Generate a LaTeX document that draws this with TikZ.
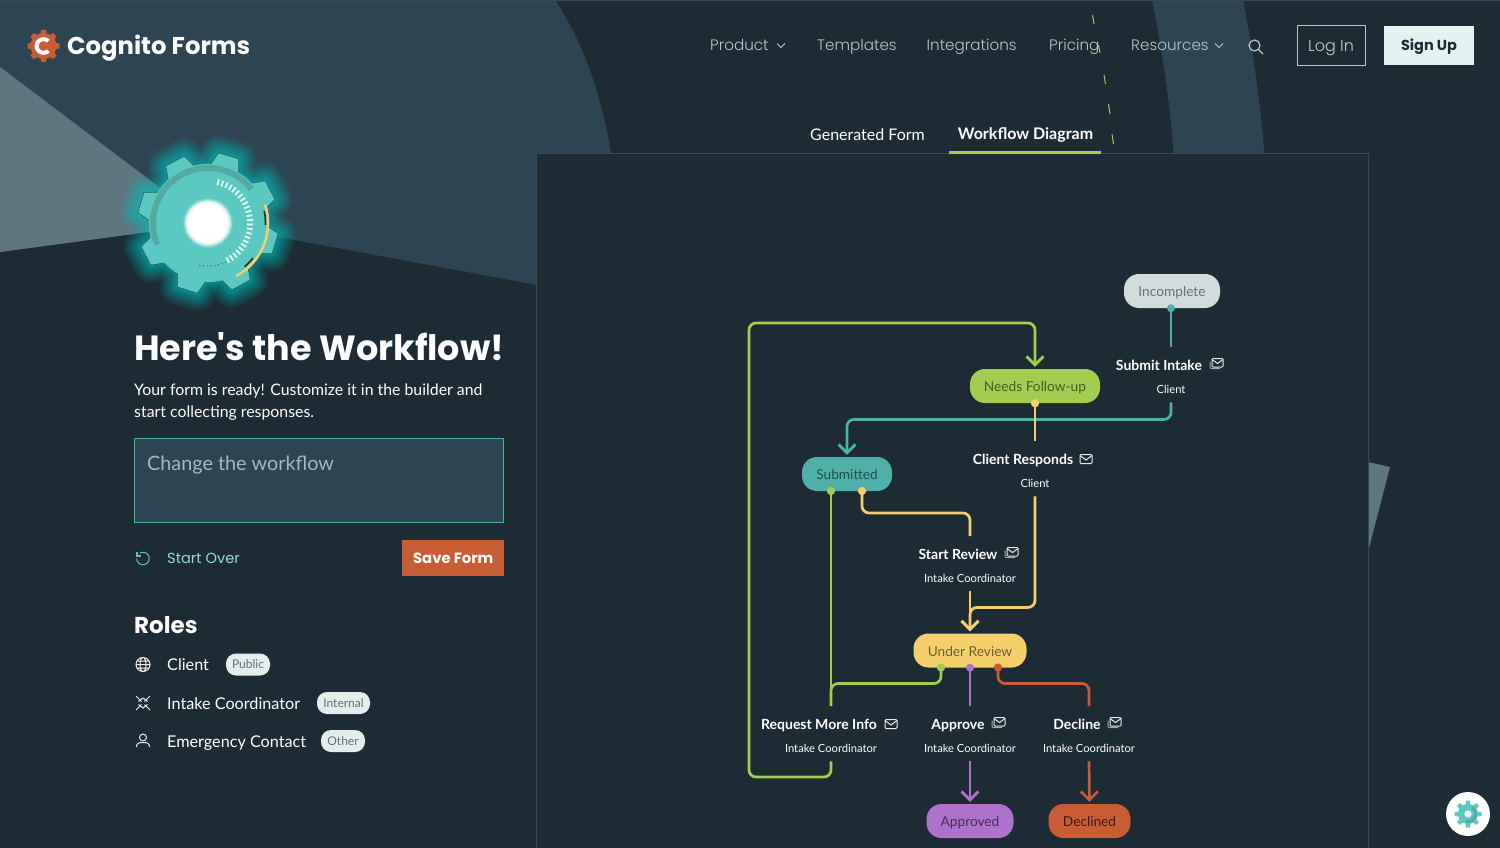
\documentclass[tikz,border=0pt]{standalone}
\usepackage{fontspec}
\setmainfont{Lato}
\newfontfamily\geofont{Poppins}
\newfontfamily\geolight{Poppins Light}
\usetikzlibrary{arrows.meta}
\definecolor{pagedark}{HTML}{1C2B34}
\definecolor{bandblue}{HTML}{2D4452}
\definecolor{wedgegray}{HTML}{5E7680}
\definecolor{edgeblue}{HTML}{34495A}
\definecolor{tealc}{HTML}{4EB0A9}
\definecolor{gearc}{HTML}{5BC9C1}
\definecolor{greenc}{HTML}{A1CD50}
\definecolor{yellowc}{HTML}{F5CF6B}
\definecolor{purplec}{HTML}{AE71CC}
\definecolor{redc}{HTML}{C85C34}
\definecolor{palec}{HTML}{D2DCDC}
\definecolor{pillc}{HTML}{E4ECEC}
\definecolor{slatec}{HTML}{5F737A}
\definecolor{navc}{HTML}{B9C8CB}
\tikzset{
 state/.style={rounded corners=15pt,minimum height=34pt,inner sep=0pt,text height=12pt,text depth=1pt,
   font=\fontsize{13.7}{16}\selectfont},
 action/.style={anchor=north,align=center,inner sep=0pt,text=white,
   font=\fontsize{14}{23.5}\selectfont},
 conn/.style={line width=2.7pt,rounded corners=7pt},
 into/.style={conn,-{Straight Barb[length=8.5pt,width=17pt,line width=2.7pt]},shorten >=2pt},
 dot/.style={circle,inner sep=0pt,minimum size=8pt},
 nav/.style={anchor=base west,text=navc,inner sep=0pt,font=\geolight\fontsize{15.2}{18}\selectfont},
 roletext/.style={anchor=base west,text=white,inner sep=0pt,font=\fontsize{16.2}{20}\selectfont},
 pill/.style={rounded corners=10pt,fill=pillc,text=slatec,minimum height=22pt,
   inner sep=0pt,font=\fontsize{12}{14}\selectfont},
 icon/.style={white!85!gray,line width=1pt},
 mailicon/.pic={
  \draw[icon,rounded corners=1pt] (-6,-4.5) rectangle (6,4.5);
  \draw[icon] (-6,-3.5) -- (0,1) -- (6,-3.5);},
 mailstack/.pic={
  \draw[icon,gray!70!white,rounded corners=1pt] (-6,-2.5) -- (-6,4.5) -- (4,4.5);
  \draw[icon,rounded corners=1pt] (-4,-5.5) rectangle (7,3);
  \draw[icon] (-4,-4.5) -- (1.5,-.5) -- (7,-4.5);}
}
\newcommand\acttext[2]{\rule{0pt}{23pt}\textbf{#1}\kern24pt\\
 {\fontsize{11.2}{23.5}\selectfont #2}\rule[-8.5pt]{0pt}{8.5pt}}
\begin{document}
\begin{tikzpicture}[x=1pt,y=-1pt]
 \useasboundingbox (0,0) rectangle (1500,848);
 \fill[pagedark] (0,0) rectangle (1500,848);
 % background shapes
 \fill[bandblue] (0,0) -- (555,0) .. controls (585,45) and (603,100) .. (612,160)
   -- (537,160) -- (537,285) -- (208,224) -- (0,252) -- cycle;
 \fill[wedgegray] (0,67) -- (208,224) -- (0,252) -- cycle;
 \fill[bandblue] (1152,0) -- (1243,0) .. controls (1253,50) and (1260,100) .. (1265,160)
   -- (1174,160) .. controls (1170,100) and (1162,50) .. (1152,0) -- cycle;
 \draw[edgeblue,line width=1.5pt] (0,.5) -- (1500,.5);
 \foreach \ya/\xa/\yb/\xb in {15/1092.5/24/1094,45/1098.5/53/1100,75/1104/84/1105.5,104/1108.5/114/1110,134/1112/144/1113.5}
 {\draw[greenc,line width=1pt] (\xa,\ya) -- (\xb,\yb);}
 \fill[wedgegray] (1368,462) -- (1390,467) -- (1368,552) -- cycle;
 % panel
 \draw[edgeblue,fill=pagedark,line width=1pt] (536.5,860) -- (536.5,153.5) -- (1368,153.5) -- (1368,860);
 % gear
 \begin{scope}[shift={(208,223)},yscale=-1]
  \def\gearpath{(28-22.5:58) \foreach \a in {28,73,118,163,208,253,298,343}
    {-- (\a-22.5:58) -- (\a-15:58) -- (\a-8.5:71) -- (\a+8.5:71) -- (\a+15:58)} -- cycle}
  \foreach \w in {36,31,27,23,20,17,14,11,9,7,5,3}
  {\draw[color=teal!45!cyan,opacity=.08,line width=\w pt,line join=round] \gearpath;}
  \fill[gearc] \gearpath;
  \draw[pagedark!70!gearc,line width=.6pt] \gearpath;
  \fill[gearc] (0,0) circle[radius=59];
  \draw[color=tealc!85!gray,line width=6pt] plot[domain=38:203,samples=50] (\x:55);
  \foreach \a in {76,70,...,-62}
  {\draw[white!85!gearc,line width=1.8pt] (\a:39) -- (\a:45);}
  \foreach \a in {-66,-71,...,-105}
  {\fill[tealc!50!pagedark] (\a:43) circle[radius=.7];}
  \draw[pagedark,line width=1.6pt] plot[domain=-2:12,samples=8] (\x:57.5);
  \draw[pagedark,line width=1.6pt] plot[domain=-50:-38,samples=8] (\x:57);
  \draw[yellowc,line width=2.5pt] plot[domain=18:-62,samples=40] (\x:60);
  \foreach \r/\o in {25/.12,24/.2,23/.35,22/.6}
  {\fill[white,opacity=\o] (0,0) circle[radius=\r];}
  \fill[white] (0,0) circle[radius=20];
 \end{scope}
 % logo
 \begin{scope}[shift={(43.5,46)},yscale=-1]
  \foreach \a in {0,45,...,315}
  {\fill[redc,rotate=\a] (-3.4,11) -- (-2.4,16) -- (2.4,16) -- (3.4,11) -- cycle;}
  \fill[redc] (0,0) circle[radius=13];
  \draw[white,line width=4pt] plot[domain=45:315,samples=30] (\x:6.8);
 \end{scope}
 \node[anchor=base west,text=white,inner sep=0pt,font=\geofont\bfseries\fontsize{24.3}{30}\selectfont]
   (brand) at (67,54.5) {Cognito Forms};
 % top navigation
 \node[nav] (product) at (710,51) {Product};
 \node[nav] (templates) at (817,51) {Templates};
 \node[nav] (integrations) at (926.5,51) {Integrations};
 \node[nav] (pricing) at (1049,51) {Pricing};
 \node[nav] (resources) at (1131,51) {Resources};
 \foreach \x in {781,1219}
 {\draw[navc,line width=.8pt] (\x-4,43.5) -- (\x,47.5) -- (\x+4,43.5);}
 \draw[navc,line width=1.2pt] (1254.5,45.5) circle[radius=5.5] (1258.5,49.5) -- (1263,54);
 \node[draw=navc,line width=1pt,minimum width=68pt,minimum height=40pt,inner sep=0pt,text height=11.5pt,text depth=0pt,
   text=navc!90!white,font=\geolight\fontsize{16}{18}\selectfont] (login) at (1331,46) {Log In};
 \node[fill=white!85!tealc,minimum width=90pt,minimum height=39pt,inner sep=0pt,text height=10.5pt,text depth=0pt,text=pagedark,
   font=\geofont\bfseries\fontsize{14.5}{18}\selectfont] (signup) at (1429,45.5) {Sign Up};
 % tabs
 \node[text=white,inner sep=0pt,font=\fontsize{16}{18}\selectfont] (formtab) at (867.5,135) {Generated Form};
 \node[text=white,inner sep=0pt,font=\bfseries\fontsize{16}{18}\selectfont] (flowtab) at (1025.5,135) {Workflow Diagram};
 \draw[greenc,line width=2.5pt] (949,152.5) -- (1101,152.5);
 % left column
 \node[anchor=west,text=white,inner sep=0pt,font=\geofont\bfseries\fontsize{35}{40}\selectfont]
   (headline) at (134,347) {Here's the Workflow!};
 \node[anchor=north west,align=left,text=white,inner sep=0pt,font=\fontsize{15.85}{22.5}\selectfont]
   (intro) at (134,383.5) {Your form is ready! Customize it in the builder and\\start collecting responses.};
 \node[anchor=north west,draw=tealc,fill=bandblue,line width=1pt,outer sep=0pt,minimum width=369pt,
   minimum height=84pt,inner sep=0pt] (promptbox) at (134.5,438.5) {};
 \node[anchor=west,text=white!50!tealc!70!gray,inner sep=0pt,font=\fontsize{19.8}{24}\selectfont]
   (prompt) at (147,465) {Change the workflow};
 \draw[gearc!85!gray,line width=1.1pt] plot[domain=120:-180,samples=30] ({143+6.2*cos(\x)},{558.5-6.2*sin(\x)});
 \draw[gearc!85!gray,line width=1.1pt] (137,552) -- (137,556) -- (141,556);
 \node[anchor=west,text=gearc!65!white,inner sep=0pt,font=\geofont\fontsize{14.6}{18}\selectfont]
   (startover) at (167,558.5) {Start Over};
 \node[anchor=north west,fill=redc,minimum width=102pt,minimum height=36pt,inner sep=0pt,
   text=white,font=\geofont\bfseries\fontsize{14.8}{18}\selectfont] (save) at (402,540) {Save Form};
 \node[anchor=west,text=white,inner sep=0pt,font=\geofont\bfseries\fontsize{23}{28}\selectfont]
   (roles) at (134,625) {Roles};
 \node[roletext] (client) at (167,670) {Client};
 \node[roletext] (intake) at (167,709) {Intake Coordinator};
 \node[roletext] (contact) at (167,747) {Emergency Contact};
 \node[pill,minimum width=44pt] (public) at (248,664.5) {Public};
 \node[pill,minimum width=53pt] (internal) at (343.5,703) {Internal};
 \node[pill,minimum width=44pt] (other) at (343,741) {Other};
 % role icons
 \draw[icon] (143,664.5) circle[radius=7] (143,664.5) ellipse[x radius=3,y radius=7]
   (136,664.5) -- (150,664.5) (137,661) -- (149,661) (137,668) -- (149,668);
 \draw[icon] (136,696) -- (141.5,701.5) (150,696) -- (144.5,701.5) (136,710) -- (141.5,704.5) (150,710) -- (144.5,704.5)
   (138.5,701.5) -- (143,698) -- (147.5,701.5) (138.5,704.5) -- (143,708) -- (147.5,704.5);
 \draw[icon] (143,737.5) circle[radius=3.5] (136.5,747) .. controls (136.5,743) and (139,742.5) .. (143,742.5)
   .. controls (147,742.5) and (149.5,743) .. (149.5,747);
 % workflow states
 \node[state,fill=palec,text=slatec,minimum width=96pt] (incomplete) at (1172,291) {Incomplete};
 \node[state,fill=greenc,text=greenc!45!black,minimum width=130pt] (needs) at (1035,386) {Needs Follow-up};
 \node[state,fill=tealc,text=tealc!45!black,minimum width=90pt] (submitted) at (847,474) {Submitted};
 \node[state,fill=yellowc,text=yellowc!45!black,minimum width=113pt] (under) at (970,650.5) {Under Review};
 \node[state,fill=purplec,text=purplec!40!black,minimum width=87pt] (approved) at (970,821) {Approved};
 \node[state,fill=redc,text=redc!30!black,minimum width=82pt] (declined) at (1089.5,821) {Declined};
 % actions
 \node[action] (submit) at (1171,347) {\acttext{Submit Intake}{Client}};
 \node[action] (respond) at (1035,441) {\acttext{Client Responds}{Client}};
 \node[action] (start) at (970,536) {\acttext{Start Review}{Intake Coordinator}};
 \node[action] (request) at (831,706) {\acttext{Request More Info}{Intake Coordinator}};
 \node[action] (approve) at (970,706) {\acttext{Approve}{Intake Coordinator}};
 \node[action] (decline) at (1089,706) {\acttext{Decline}{Intake Coordinator}};
 \pic at (1216,364) {mailstack};
 \pic at (1086,459) {mailicon};
 \pic at (1011,553) {mailstack};
 \pic at (891,724) {mailicon};
 \pic at (998,723) {mailstack};
 \pic at (1114,723) {mailstack};
 % connectors
 \path (749,777) coordinate (loopbottom) (749,323) coordinate (looptop);
 \node[dot,fill=yellowc] (needsdot) at (needs.south) {};
 \node[dot,fill=greenc] (subgreen) at (831,491) {};
 \node[dot,fill=yellowc] (subyellow) at (862,491) {};
 \node[dot,fill=greenc] (undergreen) at (941,667.5) {};
 \node[dot,fill=redc] (underred) at (998,667.5) {};
 \draw[conn,tealc] (incomplete.south -| submit.north) -- (submit.north);
 \draw[into,tealc] (submit.south) -- ++(0,17) -| (submitted.north);
 \draw[conn,yellowc] (needsdot.center) -- (respond.north);
 \draw[into,yellowc] (respond.south) -- ++(0,111) -| (under.north);
 \draw[conn,yellowc] (subyellow.center) -- ++(0,22) -| (start.north);
 \draw[into,yellowc] (start.south) -- (under.north);
 \draw[conn,greenc] (subgreen.center) -- (request.north);
 \draw[conn,greenc] (undergreen.center) -- ++(0,16) -| (request.north);
 \draw[into,greenc] (request.south) |- (loopbottom) -- (looptop) -| (needs.north);
 \draw[conn,purplec] (under.south) -- (approve.north);
 \draw[into,purplec] (approve.south) -- (approved.north);
 \draw[conn,redc] (underred.center) -- ++(0,16) -| (decline.north);
 \draw[into,redc] (decline.south) -- (declined.north);
 \node[dot,fill=tealc] (incdot) at (incomplete.south -| submit.north) {};
 \node[dot,fill=yellowc] (needsdot) at (needs.south) {};
 \node[dot,fill=greenc] (subgreen) at (831,491) {};
 \node[dot,fill=yellowc] (subyellow) at (862,491) {};
 \node[dot,fill=greenc] (undergreen) at (941,667.5) {};
 \node[dot,fill=purplec] (underpurple) at (under.south) {};
 \node[dot,fill=redc] (underred) at (998,667.5) {};
 % settings button
 \fill[white] (1468,814) circle[radius=22];
 \begin{scope}[shift={(1468,814)},yscale=-1]
  \foreach \a in {0,45,...,315}
  {\fill[gearc,rotate=\a] (-2.6,8) -- (-2,13.5) -- (2,13.5) -- (2.6,8) -- cycle;}
  \fill[gearc] (0,0) circle[radius=10];
  \draw[tealc!85!gray,line width=2.6pt] plot[domain=60:-110,samples=20] (\x:7.5);
  \fill[white!88!gray] (0,0) circle[radius=3.6];
 \end{scope}
\end{tikzpicture}
\end{document}
